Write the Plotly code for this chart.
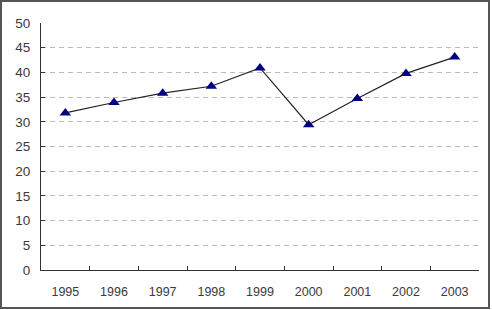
import plotly.graph_objects as go

years = ["1995", "1996", "1997", "1998", "1999", "2000", "2001", "2002", "2003"]
values = [31.8, 33.9, 35.8, 37.2, 40.9, 29.4, 34.7, 39.8, 43.1]
y_ticks = [0, 5, 10, 15, 20, 25, 30, 35, 40, 45, 50]

W, H = 492, 310
ml, mr, mt, mb = 41, 13, 23, 40
pw, ph = W - ml - mr, H - mt - mb

fig = go.Figure()
fig.add_trace(go.Scatter(
    x=years, y=values, mode="lines+markers",
    line=dict(color="#222222", width=1.2),
    marker=dict(symbol="triangle-up", size=10, color="#000080"),
    showlegend=False,
))

def px_x(p):
    return (p - ml) / pw

def px_y(p):
    return (H - mb - p) / ph

fig.update_layout(
    width=W, height=H,
    margin=dict(l=ml, r=mr, t=mt, b=mb),
    paper_bgcolor="white", plot_bgcolor="white",
    font=dict(family="Liberation Sans, Arial, sans-serif", size=12.5, color="#3a3a3a"),
    xaxis=dict(
        type="category", tickson="boundaries", ticks="inside", ticklen=4,
        tickcolor="#333333", showline=True, linecolor="#333333", linewidth=1,
        showgrid=False, ticklabelstandoff=10, range=[-0.5, 8.5],
    ),
    yaxis=dict(
        range=[0, 50], tickvals=y_ticks, ticks="inside", ticklen=4,
        tickcolor="#333333", showline=True, linecolor="#333333", linewidth=1,
        showgrid=True, gridcolor="#bbbbbb", griddash="5px,4px", gridwidth=1,
        zeroline=False, ticklabelstandoff=7, tickfont=dict(size=13.5),
    ),
    shapes=[dict(
        type="rect", xref="paper", yref="paper",
        x0=px_x(1), x1=px_x(489), y0=px_y(308), y1=px_y(1),
        line=dict(color="#555555", width=2), layer="above",
    )],
)

fig.write_html("out.html")
